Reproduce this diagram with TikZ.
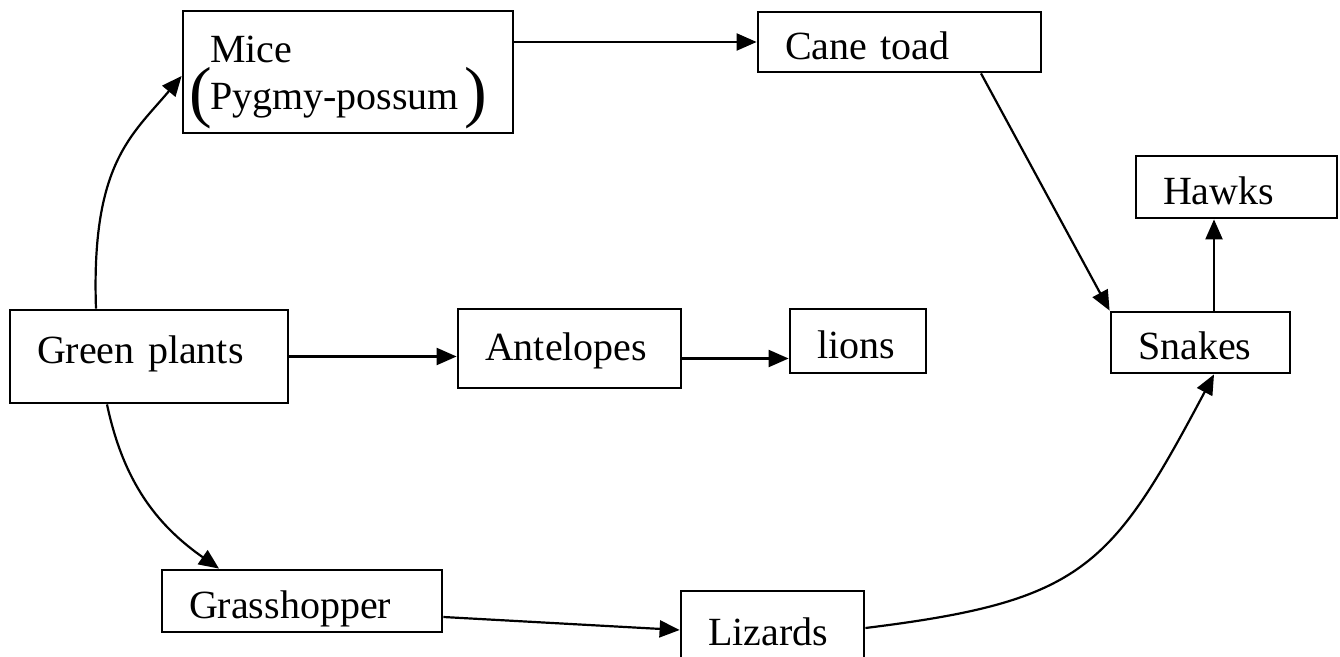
\documentclass[tikz,border=0pt]{standalone}
\usepackage{fontspec}
\setmainfont{Liberation Serif}
\usetikzlibrary{arrows.meta}

\newcommand{\PicW}{1340}
\newcommand{\PicH}{656}
\newcommand{\BigParen}[1]{\smash{\raisebox{-5pt}{\fontsize{68}{68}\selectfont #1}}}

\tikzset{
    foodbox/.style={draw, line width=2.8pt, align=left, inner xsep=27pt, inner ysep=0pt,
        text height=35pt, text depth=0pt},
    eats/.style={-{Triangle[length=20pt,width=17pt]}, line width=2.2pt},
}

\begin{document}
\begin{tikzpicture}[x=1pt, y=1pt, font=\fontsize{40}{47}\selectfont]
    \useasboundingbox (0,0) rectangle (\PicW,\PicH);

    % boxes
    \node[foodbox, text width=224pt, minimum height=93pt, text depth=21pt] (Plants) at (149,299.5) {Green plants};
    \node[foodbox, text width=276pt, minimum height=122pt, text height=29pt, text depth=47pt] (Mice) at (348,584)
        {Mice\\\leavevmode\llap{\BigParen{(}\kern-2pt}Pygmy-possum\rlap{\kern6pt\BigParen{)}}};
    \node[foodbox, text width=229pt, minimum height=60pt] (Cane) at (899.5,614) {Cane toad};
    \node[foodbox, text width=169pt, minimum height=79pt, text depth=11pt] (Antel) at (569.5,307.5) {Antelopes};
    \node[foodbox, text width=82pt, minimum height=64pt] (Lions) at (858,315) {lions};
    \node[foodbox, text width=125pt, minimum height=61pt] (Snakes) at (1200.5,313.5) {Snakes};
    \node[foodbox, text width=147pt, minimum height=62pt] (Hawks) at (1236.5,469) {Hawks};
    \node[foodbox, text width=226pt, minimum height=62pt] (Grass) at (302,55) {Grasshopper};
    \node[foodbox, text width=129pt, minimum height=74pt] (Liz) at (772.5,28) {Lizards};

    % who eats whom
    \draw[eats] ([xshift=-53pt]Plants.north) to[out=92, in=230, out looseness=1.5, in looseness=0.8] ([yshift=-4pt]Mice.west);
    \draw[eats] ([xshift=-42pt]Plants.south) to[out=-78, in=145] ([xshift=-83pt]Grass.north);
    \draw[eats] (Plants.east) -- (Plants.east -| Antel.west);
    \draw[eats] ([yshift=-10pt]Antel.east) -- ([yshift=-10pt]Antel.east -| Lions.west);
    \draw[eats] (Cane.west -| Mice.east) -- (Cane.west);
    \draw[eats] ([xshift=81.5pt]Cane.south) -- (Snakes.north west);
    \draw[eats] ([xshift=13.5pt]Snakes.north) -- ([xshift=13.5pt]Snakes.north |- Hawks.south);
    \draw[eats] ([yshift=-16pt]Grass.east) -- ([yshift=-2pt]Liz.west);
    \draw[eats] (Liz.east) to[out=7, in=242, looseness=1.3] ([xshift=13.5pt]Snakes.south);
\end{tikzpicture}
\end{document}
